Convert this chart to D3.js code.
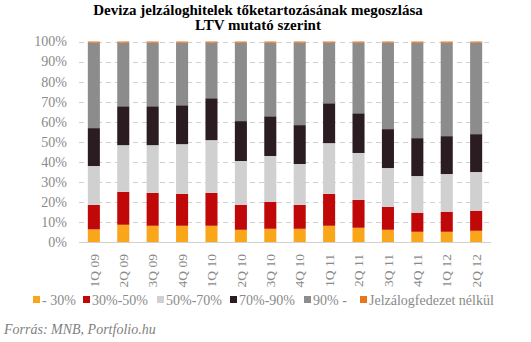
<!DOCTYPE html>
<html><head><meta charset="utf-8">
<script src="https://cdn.jsdelivr.net/npm/d3@7"></script>
<style>body{margin:0;background:#fff}</style>
</head><body>
<svg id="c" width="531" height="342"></svg>
<script>
const categories = ["1Q 09","2Q 09","3Q 09","4Q 09","1Q 10","2Q 10","3Q 10","4Q 10","1Q 11","2Q 11","3Q 11","4Q 11","1Q 12","2Q 12"];
const seriesNames = ["- 30%","30%-50%","50%-70%","70%-90%","90% -","Jelzálogfedezet nélkül"];
const s1 = [6.3,8.6,8.1,8.1,8.1,6.1,6.6,6.6,8.1,7.1,6.1,5.1,5.1,5.6];
const s2 = [12.2,16.4,16.4,15.9,16.4,12.4,13.4,11.9,15.9,13.9,11.4,9.5,10.0,10.0];
const s3 = [19.4,23.3,23.8,24.8,26.3,21.9,22.9,20.4,25.3,23.4,19.4,18.3,18.8,19.3];
const s4 = [18.9,19.4,19.4,19.4,20.9,19.9,19.8,19.4,19.9,19.8,19.4,18.9,18.9,18.9];
const s5 = [42.6,31.7,31.7,31.2,27.7,39.1,36.7,41.1,30.2,35.2,43.1,47.6,46.6,45.6];
const s6 = [0.6,0.6,0.6,0.6,0.6,0.6,0.6,0.6,0.6,0.6,0.6,0.6,0.6,0.6];
const yTicks = [0,10,20,30,40,50,60,70,80,90,100];
const colors = ["#F9A61B","#C00808","#D0D0D0","#2B1C22","#8C8C8C","#E8761E"];
const titleLines = ["Deviza jelzáloghitelek tőketartozásának megoszlása","LTV mutató szerint"];
const source = "Forrás: MNB, Portfolio.hu";

const serif = "'Liberation Serif', 'DejaVu Serif', serif";
const svg = d3.select("#c");
const all = [s1,s2,s3,s4,s5,s6];
const rows = categories.map((c,i)=>{const o={cat:c}; seriesNames.forEach((n,k)=>o[n]=all[k][i]); return o;});
const stack = d3.stack().keys(seriesNames)(rows);

const x = d3.scaleBand().domain(categories).range([79,491]).paddingInner(0.59).paddingOuter(0.3);
const y = d3.scaleLinear().domain([0,100]).range([242,41.5]);

// gridlines
svg.append("g").selectAll("line").data(yTicks.filter(t=>t>0)).join("line")
  .attr("x1",79).attr("x2",491).attr("y1",d=>Math.round(y(d))+0.5).attr("y2",d=>Math.round(y(d))+0.5)
  .attr("stroke","#d0d0d0").attr("stroke-width",1).attr("stroke-dasharray","5,4");

// bars
svg.append("g").selectAll("g").data(stack).join("g").attr("fill",(d,i)=>colors[i])
  .selectAll("rect").data(d=>d).join("rect")
  .attr("x",d=>x(d.data.cat)).attr("width",x.bandwidth())
  .attr("y",d=>y(d[1])).attr("height",d=>y(d[0])-y(d[1]));

// x axis line
svg.append("line").attr("x1",79).attr("x2",491).attr("y1",242.5).attr("y2",242.5).attr("stroke","#d0d0d0").attr("stroke-width",1.2);

// y tick labels
svg.append("g").selectAll("text").data(yTicks).join("text")
  .attr("x",67).attr("y",d=>y(d)).attr("dy","0.35em").attr("text-anchor","end")
  .attr("font-family",serif).attr("font-size",14).attr("fill","#8a8a8a")
  .text(d=>d+"%");

// x labels rotated
svg.append("g").selectAll("text").data(categories).join("text")
  .attr("transform",d=>`translate(${x(d)+x.bandwidth()/2},254) rotate(-90)`)
  .attr("text-anchor","end").attr("dy","0.35em")
  .attr("font-family",serif).attr("font-size",13.5).attr("fill","#8a8a8a")
  .text(d=>d);

// title
svg.append("g").selectAll("text").data(titleLines).join("text")
  .attr("x",258).attr("y",(d,i)=>15+i*15).attr("text-anchor","middle")
  .attr("font-family",serif).attr("font-weight","bold").attr("font-size",15).attr("fill","#000")
  .text(d=>d);

// legend
const legX = [33,83,157,230,304,360];
const lg = svg.append("g").selectAll("g").data(seriesNames).join("g")
  .attr("transform",(d,i)=>`translate(${legX[i]},300)`);
lg.append("rect").attr("x",0).attr("y",-4).attr("width",7).attr("height",7).attr("fill",(d,i)=>colors[i]);
lg.append("text").attr("x",9).attr("y",0).attr("dy","0.35em")
  .attr("font-family",serif).attr("font-size",14).attr("fill","#8a8a8a").text(d=>d);

// source
svg.append("text").attr("x",4).attr("y",334).attr("font-family",serif).attr("font-style","italic")
  .attr("font-size",14).attr("fill","#7f7f7f").text(source);
</script>
</body></html>
